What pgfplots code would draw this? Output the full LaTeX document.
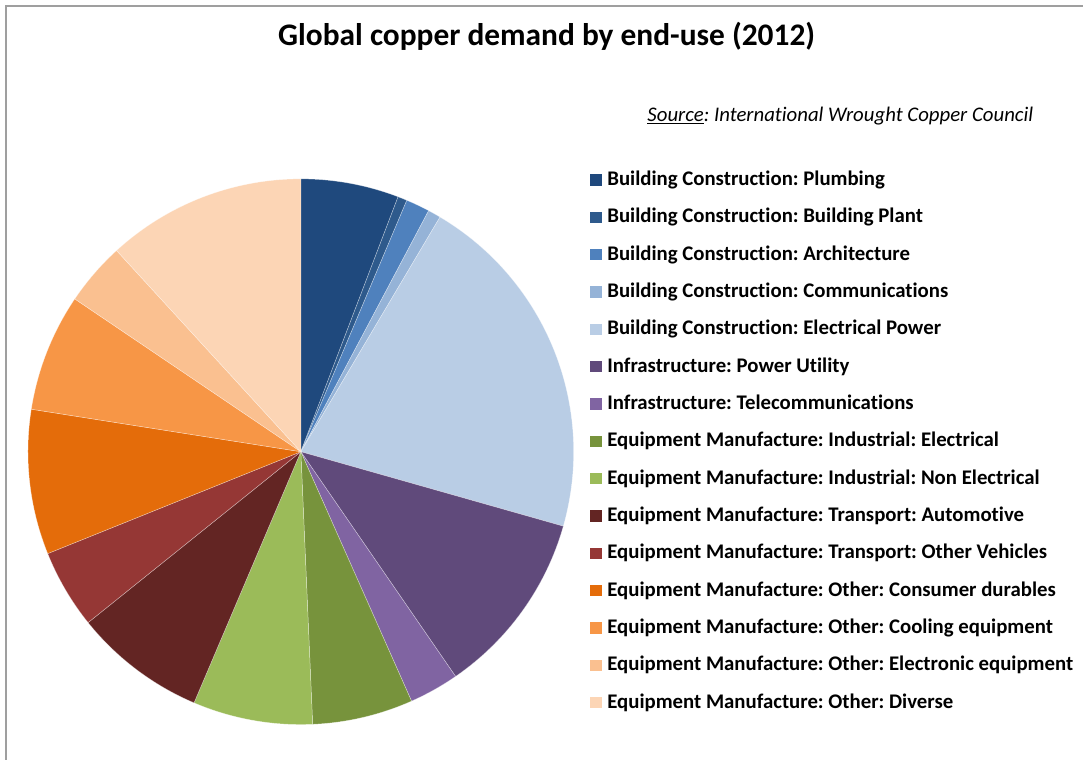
\documentclass[border=0pt]{standalone}
\usepackage{fontspec}
\setmainfont[Ligatures=CommonOff]{Carlito}
\usepackage{pgfplots}
\usepackage{pgfplotstable}
\pgfplotsset{compat=1.18}

\definecolor{c0}{HTML}{1F497D}
\definecolor{c1}{HTML}{2E5A8C}
\definecolor{c2}{HTML}{4F81BD}
\definecolor{c3}{HTML}{95B3D7}
\definecolor{c4}{HTML}{B9CDE5}
\definecolor{c5}{HTML}{604A7B}
\definecolor{c6}{HTML}{8064A2}
\definecolor{c7}{HTML}{77933C}
\definecolor{c8}{HTML}{9BBB59}
\definecolor{c9}{HTML}{632523}
\definecolor{c10}{HTML}{953735}
\definecolor{c11}{HTML}{E46C0A}
\definecolor{c12}{HTML}{F79646}
\definecolor{c13}{HTML}{FAC090}
\definecolor{c14}{HTML}{FCD5B5}

% share of demand in percent
\pgfplotstableread[col sep=comma]{
label,value
Building Construction: Plumbing,5.80
Building Construction: Building Plant,0.55
Building Construction: Architecture,1.41
Building Construction: Communications,0.76
Building Construction: Electrical Power,20.88
Infrastructure: Power Utility,11.00
Infrastructure: Telecommunications,2.95
Equipment Manufacture: Industrial: Electrical,5.96
Equipment Manufacture: Industrial: Non Electrical,7.09
Equipment Manufacture: Transport: Automotive,7.83
Equipment Manufacture: Transport: Other Vehicles,4.68
Equipment Manufacture: Other: Consumer durables,8.58
Equipment Manufacture: Other: Cooling equipment,6.97
Equipment Manufacture: Other: Electronic equipment,3.74
Equipment Manufacture: Other: Diverse,11.80
}\piedata

\newcommand\legfont{\fontsize{20.8bp}{24bp}\selectfont\bfseries}

\begin{document}%
\frenchspacing%
\begin{tikzpicture}
\def\cum{0}
\pgfplotsforeachungrouped \i in {0,...,14}{%
  \pgfplotstablegetelem{\i}{value}\of\piedata
  \pgfmathsetmacro\s{90-3.6*\cum}%
  \pgfmathsetmacro\cum{\cum+\pgfplotsretval}%
  \pgfmathsetmacro\e{90-3.6*\cum}%
  \expandafter\xdef\csname pieS\i\endcsname{\s}%
  \expandafter\xdef\csname pieE\i\endcsname{\e}%
  \pgfplotstablegetelem{\i}{label}\of\piedata
  \expandafter\xdef\csname pieL\i\endcsname{\pgfplotsretval}%
}
\begin{axis}[at={(0,0)}, anchor=origin, x=1bp, y=1bp,
  xmin=0, xmax=1084, ymin=0, ymax=760,
  hide axis, clip=false]
\path (axis cs:0,0) rectangle (axis cs:1084,760);
% frame (top and left visible)
\draw[gray!75, line width=1.3bp] (axis cs:6,0) -- (axis cs:6,754) -- (axis cs:1084,754);
% pie slices
\pgfplotsinvokeforeach{0,...,14}{
  \fill[c#1, draw=white, draw opacity=0.45, line width=0.5bp]
    (axis cs:301,308) -- ++(\csname pieS#1\endcsname:273bp)
    arc[start angle=\csname pieS#1\endcsname, end angle=\csname pieE#1\endcsname, radius=273bp] -- cycle;
}
% legend
\pgfplotsinvokeforeach{0,...,14}{
  \fill[c#1] (axis cs:590,{760-174.3-#1*37.36}) rectangle ++(12bp,-11.5bp);
  \node[anchor=base west, inner sep=0pt, font=\legfont] at (axis cs:607.5,{760-185.7-#1*37.36}) {\csname pieL#1\endcsname};
}
% title and source
\node[anchor=base, inner sep=0pt, font=\fontsize{31.4bp}{36bp}\selectfont\bfseries] at (axis cs:547,714.3) {Global copper demand by end-use (2012)};
\node[anchor=base east, inner sep=0pt, font=\fontsize{20.8bp}{24bp}\selectfont\itshape] at (axis cs:1034,638) {\underline{Source}: International Wrought Copper Council};
\end{axis}
\end{tikzpicture}%
\end{document}
